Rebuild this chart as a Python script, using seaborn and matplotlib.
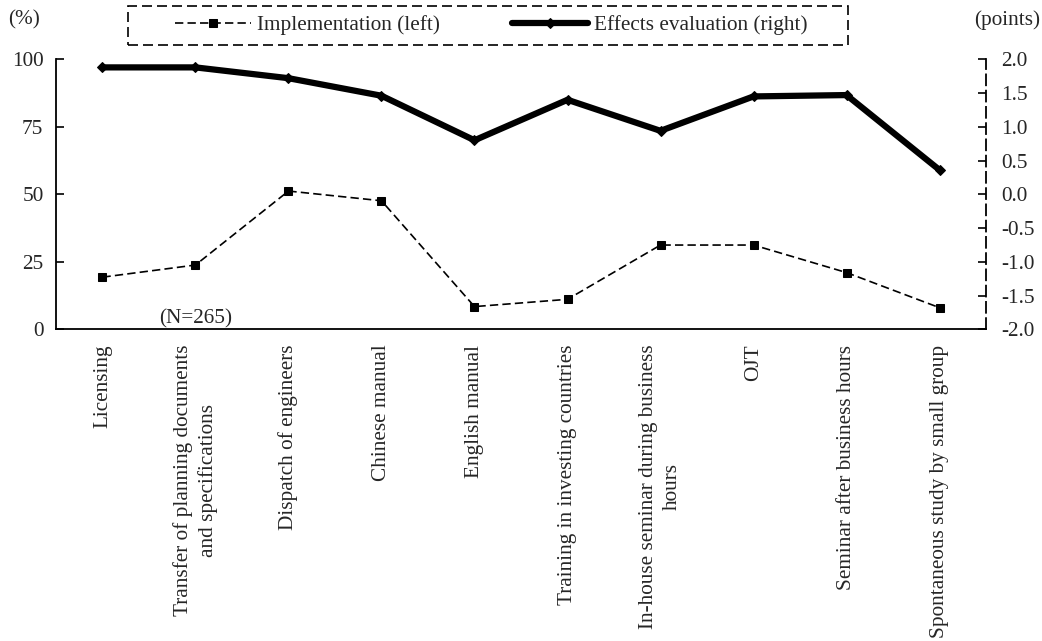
import numpy as np
import pandas as pd
import matplotlib
matplotlib.use("Agg")
import matplotlib.pyplot as plt
import matplotlib.transforms as mtransforms
from matplotlib.patches import Rectangle
import seaborn as sns

categories = [
    "Licensing",
    "Transfer of planning documents\nand specifications",
    "Dispatch of engineers",
    "Chinese manual",
    "English manual",
    "Training in investing countries",
    "In-house seminar during business\nhours",
    "OJT",
    "Seminar after business hours",
    "Spontaneous study by small group",
]
implementation = [19.3, 23.8, 51.2, 47.6, 8.4, 11.1, 31.2, 31.2, 21.0, 8.0]
effects = [1.88, 1.88, 1.72, 1.46, 0.80, 1.40, 0.94, 1.45, 1.47, 0.36]
left_ticks = [0, 25, 50, 75, 100]
right_ticks = [-2.0, -1.5, -1.0, -0.5, 0.0, 0.5, 1.0, 1.5, 2.0]

sns.set_style("white")
plt.rcParams["font.family"] = ["Liberation Serif", "DejaVu Serif"]
plt.rcParams["axes.unicode_minus"] = False
FS = 15.3

df = pd.DataFrame({"pos": np.arange(len(categories)),
                   "impl": implementation, "eff": effects})

fig, ax = plt.subplots(figsize=(10.42, 6.41), dpi=100)
fig.subplots_adjust(left=0.0537, right=0.9463, bottom=0.4863, top=0.9075)
ax2 = ax.twinx()

sns.lineplot(data=df, x="pos", y="impl", ax=ax, color="black", lw=1.2,
             linestyle=(0, (5, 2.5)), marker="s", markersize=5.5,
             markerfacecolor="black", markeredgecolor="black",
             label="Implementation (left)", legend=False)
sns.lineplot(data=df, x="pos", y="eff", ax=ax2, color="black", lw=4.5,
             marker="D", markersize=5.5, markerfacecolor="black",
             markeredgecolor="black", label="Effects evaluation (right)",
             legend=False)

n = len(categories)
ax.set_xlim(-0.5, n - 0.5)
ax.set_ylim(0, 100)
ax2.set_ylim(-2.0, 2.0)
ax.set_xlabel("")
ax.set_ylabel("")
ax2.set_ylabel("")

ax.set_yticks(left_ticks)
ax.set_yticklabels([str(t) for t in left_ticks], fontsize=FS)
ax2.set_yticks(right_ticks)
ax2.set_yticklabels([f"{t:.1f}" for t in right_ticks], fontsize=FS)

# category boundaries as major ticks, labels at centers as minor ticks
ax.set_xticks(np.arange(0.5, n - 0.5, 1.0))
ax.set_xticklabels([])
ax.set_xticks(np.arange(n), minor=True)
ax.set_xticklabels(categories, minor=True, rotation=90, fontsize=FS,
                   ha="center", va="top", multialignment="center",
                   linespacing=1.3)
ax.tick_params(axis="x", which="major", direction="in", length=6, width=1.2, color="black")
ax.tick_params(axis="x", which="minor", length=0, pad=11)
ax.tick_params(axis="y", direction="in", length=6, width=1.2, pad=9, color="black")
ax2.tick_params(axis="y", direction="in", length=6, width=1.2, pad=11, color="black")

for s in ["top", "right"]:
    ax.spines[s].set_visible(False)
for s in ["top", "left", "bottom"]:
    ax2.spines[s].set_visible(False)
for s in ["left", "bottom"]:
    ax.spines[s].set_color("black")
    ax.spines[s].set_linewidth(1.3)
ax2.spines["right"].set_color("black")
ax2.spines["right"].set_linewidth(1.3)
ax2.spines["right"].set_linestyle((0, (6, 3)))
ax.grid(False)
ax2.grid(False)

trans = mtransforms.blended_transform_factory(ax.transData, ax.transAxes)
ax.text(1, 0.004, "(N=265)", transform=trans, ha="center", va="bottom", fontsize=FS)

fig.text(8 / 1042, 1 - 20 / 641, "(%)", ha="left", va="center", fontsize=FS)
fig.text(1040 / 1042, 1 - 20 / 641, "(points)", ha="right", va="center", fontsize=FS)

handles = ax.get_lines()[:1] + ax2.get_lines()[:1]
labels = ["Implementation (left)", "Effects evaluation (right)"]
fig.legend(handles, labels, loc="center", bbox_to_anchor=(491 / 1042, 1 - 25 / 641),
           ncol=2, frameon=False, fontsize=FS, handlelength=3.6,
           handletextpad=0.25, columnspacing=3.4, borderpad=0.2)
fig.patches.append(Rectangle((128 / 1042, 1 - 45 / 641), 720 / 1042, 39 / 641,
                             transform=fig.transFigure, fill=False,
                             edgecolor="black", lw=1.2, linestyle=(0, (6, 3))))

fig.savefig("out.png", dpi=100)
